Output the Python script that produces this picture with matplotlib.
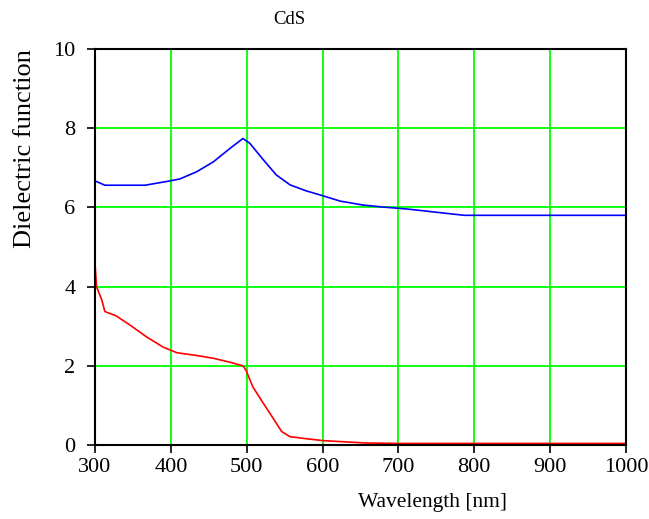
import matplotlib.pyplot as plt

# CdS dielectric function
wl_re = [300, 313, 366, 399, 412, 434, 456, 478, 495, 504, 522, 539, 557,
         578, 601, 623, 653, 679, 711, 735, 763, 787, 1000]
eps_re = [6.67, 6.56, 6.56, 6.67, 6.72, 6.90, 7.15, 7.49, 7.74, 7.62, 7.20,
          6.82, 6.57, 6.42, 6.29, 6.16, 6.06, 6.01, 5.96, 5.91, 5.85, 5.80, 5.80]

wl_im = [300, 302, 309, 313, 328, 346, 368, 390, 408, 434, 456, 478, 495,
         499, 508, 522, 535, 546, 557, 578, 601, 658, 700, 1000]
eps_im = [4.59, 4.00, 3.66, 3.37, 3.26, 3.03, 2.73, 2.47, 2.33, 2.26, 2.19,
          2.09, 2.00, 1.89, 1.47, 1.05, 0.67, 0.34, 0.21, 0.16, 0.11, 0.05,
          0.04, 0.04]

xticks = [300, 400, 500, 600, 700, 800, 900, 1000]
yticks = [0, 2, 4, 6, 8, 10]

plt.rcParams['font.family'] = ['Liberation Serif', 'DejaVu Serif']

fig = plt.figure(figsize=(6.49, 5.19), dpi=100)
ax = fig.add_axes([95 / 649, 1 - 445 / 519, (626 - 95) / 649, (445 - 49) / 519])

ax.plot(wl_re, eps_re, color='#0000ff', lw=1.2)
ax.plot(wl_im, eps_im, color='#ff0000', lw=1.2)

ax.set_xlim(300, 1000)
ax.set_ylim(0, 10)
ax.set_xticks(xticks)
ax.set_yticks(yticks)
ax.grid(True, color='#00ff00', lw=1.3)
ax.set_axisbelow(True)
for s in ax.spines.values():
    s.set_linewidth(1.5)
    s.set_color('black')
ax.tick_params(direction='out', length=6, width=1.2, labelsize=16, pad=3)
ax.tick_params(axis='y', pad=8)

fig.text(289 / 649, 1 - 20 / 519, 'CdS', ha='center', va='center', fontsize=13.5)
fig.text(432 / 649, 1 - 502 / 519, 'Wavelength [nm]', ha='center', va='center', fontsize=15.5)
fig.text(25 / 649, 1 - 149 / 519, 'Dielectric function', ha='center', va='center',
         rotation=90, fontsize=19)

fig.savefig('out.png', dpi=100)
